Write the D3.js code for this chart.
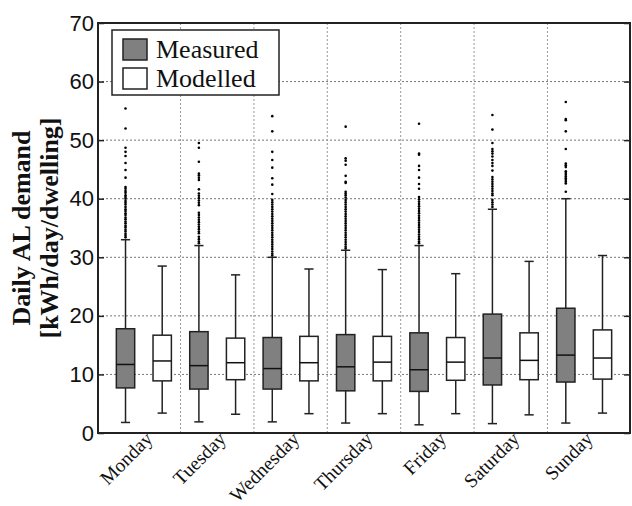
<!DOCTYPE html>
<html>
<head>
<meta charset="utf-8">
<script src="https://cdn.jsdelivr.net/npm/d3@7"></script>
<style>
  body { margin: 0; background: #fff; }
  svg { display: block; font-family: "Liberation Serif", "Times New Roman", serif; }
</style>
</head>
<body>
<svg id="chart" width="632" height="506"></svg>
<script>
// days of the week, one measured + one modelled box per day
var days = ["Monday", "Tuesday", "Wednesday", "Thursday", "Friday", "Saturday", "Sunday"];
var yTicks = [0, 10, 20, 30, 40, 50, 60, 70];

// [lower whisker, Q1, median, Q3, upper whisker]
var measured = [
    [1.8, 7.7, 11.7, 17.8, 33.0],
    [1.9, 7.5, 11.5, 17.3, 32.0],
    [1.9, 7.5, 11.0, 16.3, 30.0],
    [1.7, 7.2, 11.3, 16.8, 31.2],
    [1.4, 7.1, 10.8, 17.1, 32.0],
    [1.6, 8.2, 12.8, 20.3, 38.2],
    [1.7, 8.7, 13.3, 21.3, 40.0]
];
var modelled = [
    [3.4, 8.9, 12.3, 16.7, 28.5],
    [3.2, 9.1, 12.0, 16.2, 27.0],
    [3.3, 8.9, 12.0, 16.5, 28.0],
    [3.3, 8.9, 12.1, 16.5, 27.9],
    [3.3, 9.0, 12.1, 16.3, 27.2],
    [3.1, 9.1, 12.4, 17.1, 29.3],
    [3.4, 9.2, 12.8, 17.6, 30.3]
];
var measuredOutliers = [
    [55.4, 52.0, 48.7, 48.0, 47.3, 46.1, 44.9, 43.6, 42.0, 41.7, 41.3, 41.0, 40.6, 40.3, 40.0, 39.6, 39.3, 39.0, 38.6, 38.2, 37.9, 37.5, 37.2, 36.8, 36.5, 36.1, 35.8, 35.4, 35.1, 34.7, 34.4, 34.0, 33.7, 33.4],
    [49.5, 48.7, 46.3, 44.3, 44.0, 43.6, 43.2, 41.6, 40.9, 40.5, 40.1, 39.7, 39.3, 38.9, 37.6, 37.2, 36.8, 36.4, 36.0, 35.6, 35.2, 34.8, 34.4, 34.1, 33.5, 33.1, 32.7, 32.4],
    [54.1, 51.5, 48.0, 46.6, 45.3, 43.5, 42.4, 40.8, 39.8, 39.4, 39.0, 38.6, 38.2, 37.8, 37.4, 37.0, 36.6, 36.2, 35.8, 35.4, 35.0, 34.6, 34.2, 33.8, 33.4, 33.0, 32.6, 32.2, 31.8, 31.4, 31.0, 30.6, 30.3],
    [52.3, 46.9, 46.5, 45.8, 43.9, 42.9, 42.7, 41.2, 40.9, 40.6, 40.2, 39.8, 39.4, 39.0, 38.6, 38.2, 37.8, 37.4, 37.0, 36.6, 36.2, 35.8, 35.4, 35.0, 34.6, 34.2, 33.8, 33.4, 33.0, 32.6, 32.2, 31.8, 31.5],
    [52.8, 47.7, 47.5, 45.6, 44.9, 43.6, 42.5, 41.7, 40.3, 39.9, 39.5, 39.1, 38.7, 38.3, 37.9, 37.5, 37.1, 36.7, 36.3, 35.9, 35.5, 35.1, 34.7, 34.3, 33.9, 33.5, 33.1, 32.7, 32.4],
    [54.3, 51.8, 49.5, 48.5, 48.1, 47.7, 47.2, 46.6, 46.1, 45.6, 44.8, 43.7, 43.3, 42.9, 42.5, 42.1, 41.7, 41.3, 40.9, 40.6, 39.8, 39.4, 39.0, 38.6],
    [56.5, 53.6, 53.4, 51.5, 48.5, 46.0, 45.7, 45.4, 44.7, 44.4, 44.1, 43.8, 43.5, 43.2, 42.9, 42.6, 41.2]
];

var svg = d3.select("#chart");
var margin = { top: 23, right: 2, bottom: 73, left: 98 };
var width = +svg.attr("width") - margin.left - margin.right;
var height = +svg.attr("height") - margin.top - margin.bottom;

// box positions 1..14 along x
var xScale = d3.scaleLinear().domain([0.25, 14.75]).range([0, width]);
var yScale = d3.scaleLinear().domain([0, 70]).range([height, 0]);

var g = svg.append("g")
    .attr("transform", "translate(" + margin.left + "," + margin.top + ")");

// grid
g.append("g").attr("class", "grid-y")
    .selectAll("line")
    .data(yTicks.filter(function (d) { return d > 0 && d < 70; }))
    .enter().append("line")
    .attr("x1", 0).attr("x2", width)
    .attr("y1", function (d) { return yScale(d); })
    .attr("y2", function (d) { return yScale(d); })
    .attr("stroke", "#777").attr("stroke-width", 1).attr("stroke-dasharray", "2,2");

g.append("g").attr("class", "grid-x")
    .selectAll("line")
    .data(days.slice(1))
    .enter().append("line")
    .attr("x1", function (d, i) { return xScale(2 * i + 2.5); })
    .attr("x2", function (d, i) { return xScale(2 * i + 2.5); })
    .attr("y1", 0).attr("y2", height)
    .attr("stroke", "#999").attr("stroke-width", 1).attr("stroke-dasharray", "2,2");

// boxes
var boxWidth = xScale(1.5) - xScale(1);
var capWidth = xScale(1.25) - xScale(1);

function drawBox(stats, pos, fill) {
    var cx = xScale(pos);
    var bg = g.append("g");
    bg.append("line")
        .attr("x1", cx).attr("x2", cx)
        .attr("y1", yScale(stats[0])).attr("y2", yScale(stats[1]))
        .attr("stroke", "#222").attr("stroke-width", 1.5);
    bg.append("line")
        .attr("x1", cx).attr("x2", cx)
        .attr("y1", yScale(stats[3])).attr("y2", yScale(stats[4]))
        .attr("stroke", "#222").attr("stroke-width", 1.5);
    [stats[0], stats[4]].forEach(function (v) {
        bg.append("line")
            .attr("x1", cx - capWidth / 2).attr("x2", cx + capWidth / 2)
            .attr("y1", yScale(v)).attr("y2", yScale(v))
            .attr("stroke", "#222").attr("stroke-width", 1.5);
    });
    bg.append("rect")
        .attr("x", cx - boxWidth / 2)
        .attr("y", yScale(stats[3]))
        .attr("width", boxWidth)
        .attr("height", yScale(stats[1]) - yScale(stats[3]))
        .attr("fill", fill).attr("stroke", "#222").attr("stroke-width", 1.5);
    bg.append("line")
        .attr("x1", cx - boxWidth / 2).attr("x2", cx + boxWidth / 2)
        .attr("y1", yScale(stats[2])).attr("y2", yScale(stats[2]))
        .attr("stroke", "#111").attr("stroke-width", 1.5);
}

days.forEach(function (d, i) {
    drawBox(measured[i], 2 * i + 1, "#808080");
    drawBox(modelled[i], 2 * i + 2, "#ffffff");
    g.append("g").selectAll("circle")
        .data(measuredOutliers[i])
        .enter().append("circle")
        .attr("cx", xScale(2 * i + 1))
        .attr("cy", function (v) { return yScale(v); })
        .attr("r", 1.3)
        .attr("fill", "#000");
});

// axes frame
var yAxis = d3.axisLeft(yScale).tickValues(yTicks).tickSizeInner(-6).tickSizeOuter(0).tickPadding(4);
var yAxisR = d3.axisRight(yScale).tickValues(yTicks).tickSizeInner(-6).tickSizeOuter(0).tickFormat("");

var ya = g.append("g").attr("class", "axis axis-y").call(yAxis);
ya.select(".domain").remove();
ya.selectAll("text").attr("font-size", 22).attr("fill", "#111");
ya.selectAll("line").attr("stroke", "#222").attr("stroke-width", 1.5);

var yr = g.append("g").attr("transform", "translate(" + width + ",0)").call(yAxisR);
yr.select(".domain").remove();
yr.selectAll("line").attr("stroke", "#222").attr("stroke-width", 1.5);

g.append("rect")
    .attr("x", 0).attr("y", 0).attr("width", width).attr("height", height)
    .attr("fill", "none").attr("stroke", "#222").attr("stroke-width", 2);

// x labels, rotated
g.append("g").selectAll("text")
    .data(days)
    .enter().append("text")
    .attr("transform", function (d, i) {
        return "translate(" + (xScale(2 * i + 1.5) + 10) + "," + (height + 7) + ") rotate(-45)";
    })
    .attr("text-anchor", "end")
    .attr("font-size", 19.5)
    .attr("fill", "#111")
    .text(function (d) { return d; });

// y title
var title = svg.append("text")
    .attr("transform", "translate(30," + (margin.top + height / 2) + ") rotate(-90)")
    .attr("text-anchor", "middle")
    .attr("font-size", 26)
    .attr("font-weight", "bold")
    .attr("fill", "#111");
title.append("tspan").attr("x", 0).attr("y", 0).text("Daily AL demand");
title.append("tspan").attr("x", 0).attr("y", 28).text("[kWh/day/dwelling]");

// legend
var legend = g.append("g").attr("transform", "translate(14,7)");
legend.append("rect")
    .attr("width", 167).attr("height", 65)
    .attr("fill", "#fff").attr("stroke", "#222").attr("stroke-width", 1.5);
var legendItems = [["Measured", "#808080"], ["Modelled", "#ffffff"]];
legendItems.forEach(function (item, i) {
    var row = legend.append("g").attr("transform", "translate(11," + (9 + i * 29) + ")");
    row.append("rect")
        .attr("width", 24).attr("height", 21)
        .attr("fill", item[1]).attr("stroke", "#222").attr("stroke-width", 1.5);
    row.append("text")
        .attr("x", 33).attr("y", 19)
        .attr("font-size", 26)
        .attr("fill", "#111")
        .text(item[0]);
});
</script>
</body>
</html>
